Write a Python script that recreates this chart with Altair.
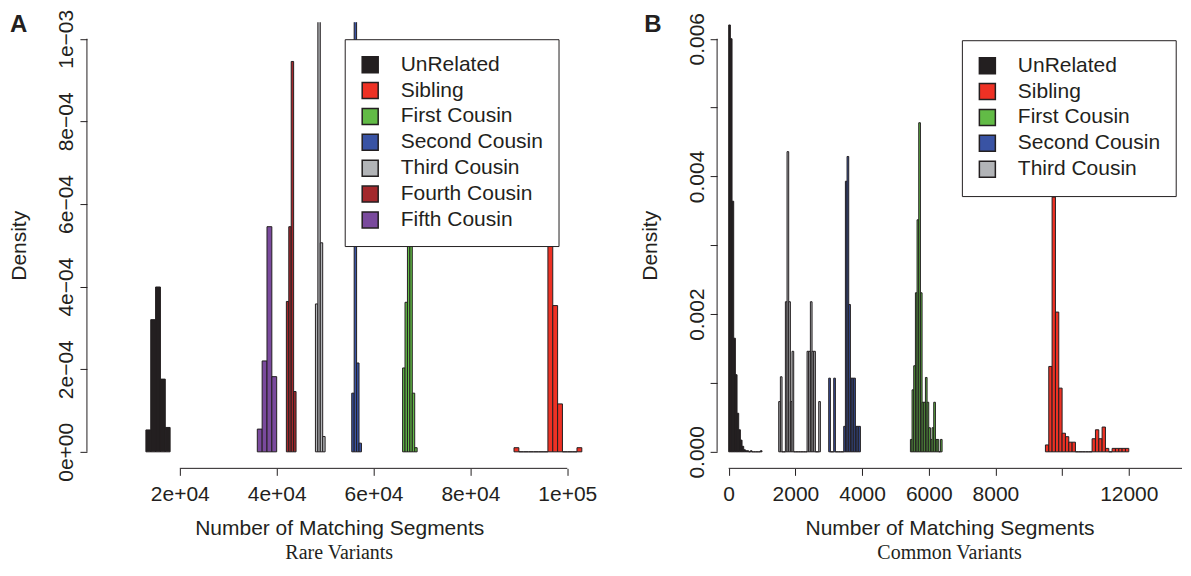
import altair as alt
import pandas as pd

INK = "#231f20"
FONT = "Liberation Sans"

group_names = ["UnRelated", "Sibling", "First Cousin", "Second Cousin",
               "Third Cousin", "Fourth Cousin", "Fifth Cousin"]
group_colors = ["#231f20", "#ee3124", "#62bb46", "#3953a4",
                "#b2b4b7", "#a3282c", "#7a4a9d"]

# ---------------- Rare variants (panel A): histogram breaks + densities
rare_unrelated_start, rare_unrelated_width = 13000, 1000
rare_unrelated = [5.3e-5, 3.2e-4, 3.99e-4, 1.76e-4, 5.9e-5]
rare_sibling_start, rare_sibling_width = 89000, 1000
rare_sibling = [1e-5, 0, 0, 0, 0, 0, 0, 5.1e-4, 3.54e-4, 1.16e-4, 0, 0, 0, 1e-5]
rare_first_start, rare_first_width = 66000, 500
rare_first = [2.03e-4, 3.62e-4, 6.4e-4, 6.4e-4, 1.42e-4, 1e-5]
rare_second_start, rare_second_width = 55500, 500
rare_second = [1.42e-4, 1.62e-3, 2.15e-4, 2.1e-5]
rare_third_start, rare_third_width = 48000, 500
rare_third = [3.58e-4, 1.1e-3, 5.06e-4, 3.7e-5]
rare_fourth_start, rare_fourth_width = 42000, 500
rare_fourth = [3.64e-4, 5.45e-4, 9.45e-4, 1.46e-4]
rare_fifth_start, rare_fifth_width = 36000, 1000
rare_fifth = [5.5e-5, 2.2e-4, 5.45e-4, 1.82e-4]

# ---------------- Common variants (panel B)
common_unrelated_start, common_unrelated_width = 0, 50
common_unrelated = [6.2e-3, 6.0e-3, 3.64e-3, 1.65e-3, 1.12e-3, 5.6e-4, 3.2e-4,
                    1.7e-4, 8e-5, 3e-5, 1.5e-5, 1.5e-5, 0, 1.5e-5, 0, 0, 0, 0, 0, 1.5e-5]
common_sibling_start, common_sibling_width = 9500, 100
common_sibling = [1e-4, 1.24e-3, 3.70e-3, 2.03e-3, 9.25e-4, 2.7e-4, 2.2e-4, 1.4e-4,
                  1.4e-4, 0, 0, 0, 0, 0, 1.9e-4, 3.2e-4, 1.9e-4, 3.6e-4, 5e-5, 0,
                  5e-5, 5e-5, 5e-5, 5e-5, 5e-5]
common_first_start, common_first_width = 5450, 50
common_first = [1.8e-4, 9.0e-4, 1.25e-3, 2.31e-3, 3.37e-3, 4.78e-3, 2.31e-3, 7.2e-4,
                7.2e-4, 1.08e-3, 7.2e-4, 3.5e-4, 1.8e-4, 3.5e-4, 7.2e-4, 1.8e-4,
                1.8e-4, 0, 1.8e-4]
common_second_start, common_second_width = 3000, 50
common_second = [1.07e-3, 0, 0, 1.07e-3, 0, 0, 0, 0, 0, 3.7e-4, 3.93e-3, 4.29e-3,
                 2.14e-3, 1.07e-3, 1.07e-3, 1.07e-3, 3.7e-4, 3.7e-4, 3.7e-4]
common_third_start, common_third_width = 1500, 50
common_third = [7.3e-4, 1.09e-3, 0, 0, 2.18e-3, 4.36e-3, 2.18e-3, 7.3e-4, 1.46e-3,
                0, 0, 0, 0, 0, 0, 0, 0, 1.46e-3, 1.46e-3, 2.18e-3, 1.46e-3, 1.46e-3,
                0, 0, 7.3e-4]

# ---------------- axis ticks and labels
rare_x_ticks = [20000, 40000, 60000, 80000, 100000]
rare_x_labels = ["2e+04", "4e+04", "6e+04", "8e+04", "1e+05"]
rare_y_ticks = [0, 0.0002, 0.0004, 0.0006, 0.0008, 0.001]
rare_y_labels = ["0e+00", "2e\u221204", "4e\u221204", "6e\u221204", "8e\u221204", "1e\u221203"]
common_x_ticks = [0, 2000, 4000, 6000, 8000, 10000, 12000]
common_x_labels = ["0", "2000", "4000", "6000", "8000", "", "12000"]
common_y_ticks = [0, 0.001, 0.002, 0.003, 0.004, 0.005, 0.006]
common_y_labels = ["0.000", "", "0.002", "", "0.004", "", "0.006"]


def frame(specs):
    rows = []
    for name, start, width, dens in specs:
        for i, d in enumerate(dens):
            rows.append({"group": name, "x0": start + i * width,
                         "x1": start + (i + 1) * width, "d": d, "zero": 0.0})
    return pd.DataFrame(rows)


rare_df = frame([
    ("UnRelated", rare_unrelated_start, rare_unrelated_width, rare_unrelated),
    ("Sibling", rare_sibling_start, rare_sibling_width, rare_sibling),
    ("First Cousin", rare_first_start, rare_first_width, rare_first),
    ("Second Cousin", rare_second_start, rare_second_width, rare_second),
    ("Third Cousin", rare_third_start, rare_third_width, rare_third),
    ("Fourth Cousin", rare_fourth_start, rare_fourth_width, rare_fourth),
    ("Fifth Cousin", rare_fifth_start, rare_fifth_width, rare_fifth),
])
common_df = frame([
    ("UnRelated", common_unrelated_start, common_unrelated_width, common_unrelated),
    ("Sibling", common_sibling_start, common_sibling_width, common_sibling),
    ("First Cousin", common_first_start, common_first_width, common_first),
    ("Second Cousin", common_second_start, common_second_width, common_second),
    ("Third Cousin", common_third_start, common_third_width, common_third),
])


def label_expr(ticks, labels):
    expr = "''"
    for t, l in reversed(list(zip(ticks, labels))):
        expr = f"datum.value == {t!r} ? '{l}' : ({expr})"
    return expr


def panel(df, n_groups, xdom, ydom, W, H, xt, xl, yt, yl, letter, caption,
          legend_x, legend_y, x_rule_end):
    axis_common = dict(domain=False, grid=False, tickSize=7, tickColor=INK,
                       tickWidth=1, labelFont=FONT, labelFontSize=21,
                       labelColor=INK, labelOverlap=False, labelFlush=False,
                       titleFont=FONT, titleFontSize=21, titleFontWeight="normal",
                       titleColor=INK)
    xaxis = alt.Axis(values=xt, labelExpr=label_expr(xt, xl),
                     title="Number of Matching Segments", labelPadding=8,
                     titlePadding=13, **axis_common)
    yaxis = alt.Axis(values=yt, labelExpr=label_expr(yt, yl), title="Density",
                     labelAngle=270, labelAlign="center",
                     labelBaseline="alphabetic", labelPadding=7,
                     titlePadding=26, **axis_common)
    xs = alt.Scale(domain=xdom, nice=False, zero=False)
    ys = alt.Scale(domain=ydom, nice=False, zero=False)
    bars = alt.Chart(df).mark_rect(clip=True, stroke=INK, strokeWidth=1).encode(
        x=alt.X("x0:Q", scale=xs, axis=xaxis),
        x2="x1:Q",
        y=alt.Y("d:Q", scale=ys, axis=yaxis),
        y2="zero:Q",
        color=alt.Color(
            "group:N",
            scale=alt.Scale(domain=group_names[:n_groups], range=group_colors[:n_groups]),
            legend=alt.Legend(
                orient="none", legendX=legend_x, legendY=legend_y, title=None,
                symbolType="square", symbolSize=256, symbolStrokeColor=INK,
                symbolStrokeWidth=1.5, symbolOpacity=1,
                labelFont=FONT, labelFontSize=21, labelColor=INK, labelOffset=20,
                rowPadding=2.9, padding=15, fillColor="white", strokeColor=INK,
                labelLimit=400),
        ),
    )
    axis_df = pd.DataFrame({"k": [0]})
    xline = alt.Chart(axis_df).mark_rule(color=INK, strokeWidth=1).encode(
        x=alt.datum(xt[0]), x2=x_rule_end, y=alt.value(H))
    yline = alt.Chart(axis_df).mark_rule(color=INK, strokeWidth=1).encode(
        y=alt.datum(yt[0]), y2=alt.datum(yt[-1]), x=alt.value(0))
    letter_df = pd.DataFrame({"t": [letter]})
    tag = alt.Chart(letter_df).mark_text(
        align="left", baseline="alphabetic", fontSize=24, fontWeight="bold",
        font=FONT, color=INK).encode(
        x=alt.value(-77 if letter == "A" else -73), y=alt.value(10), text="t:N")
    return alt.layer(bars, xline, yline, tag).properties(
        width=W, height=H,
        title=alt.TitleParams(caption, orient="bottom", anchor="middle",
                              font="Liberation Serif", fontSize=20,
                              fontWeight="normal", color=INK, offset=5))


H = 446.5
WA = 505
WB = 465.3
panel_a = panel(rare_df, 7, [825, 105000], [-4e-5, 1.04e-3], WA, H,
                rare_x_ticks, rare_x_labels, rare_y_ticks, rare_y_labels,
                "A", "Rare Variants", 258, 17, alt.datum(rare_x_ticks[-1]))
panel_b = panel(common_df, 5, [-348, 13596], [-0.00024, 0.00624], WB, H,
                common_x_ticks, common_x_labels, common_y_ticks, common_y_labels,
                "B", "Common Variants", 245, 18, alt.value(WB))

chart = alt.hconcat(panel_a, panel_b, spacing=125.7, bounds="flush").resolve_scale(
    color="independent", x="independent", y="independent"
).resolve_legend(color="independent").properties(
    padding={"left": 1, "top": 1, "right": 0, "bottom": 0}
).configure(background="white").configure_view(stroke=None)

chart.save("out.html", embed_options={"renderer": "svg", "actions": False})
